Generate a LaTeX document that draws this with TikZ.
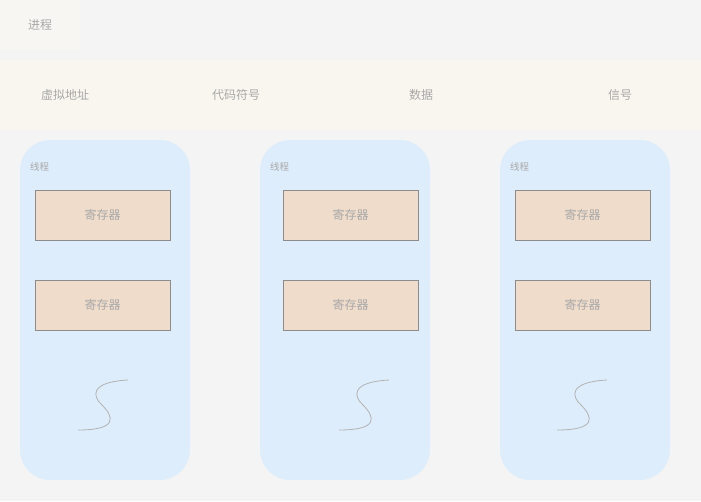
\documentclass[tikz,border=0pt]{standalone}
\usepackage{fontspec}
\newfontfamily\cjk{Noto Sans CJK SC}
\usetikzlibrary{positioning}

\definecolor{bgcol}{HTML}{F4F4F4}
\definecolor{proccol}{HTML}{F7F6F2}
\definecolor{bandcol}{HTML}{F8F6EF}
\definecolor{threadcol}{HTML}{DEEDFC}
\definecolor{regcol}{HTML}{F0DCCB}
\definecolor{txtcol}{HTML}{A8A8A8}

\begin{document}
\begin{tikzpicture}[
  x=1pt, y=-1pt,
  font=\cjk\fontsize{12}{14}\selectfont,
  every node/.style={text=txtcol, inner sep=0pt, outer sep=0pt},
  thread/.style={fill=threadcol, rounded corners=30pt, minimum width=170pt, minimum height=340pt, anchor=north west},
  register/.style={fill=regcol, draw=black!45, line width=0.7pt, minimum width=135pt, minimum height=50pt, anchor=north west},
  strand/.style={draw=black!30, line width=0.8pt}
]
% background and fixed size
\fill[bgcol] (0,0) rectangle (701,501);
\useasboundingbox (0,0) rectangle (701,501);

% process header
\node[fill=proccol, minimum width=80pt, minimum height=50pt, anchor=north west] (proc) at (0,0) {};
\node (proclabel) at (40,25) {进程};

% shared resources band
\node[fill=bandcol, minimum width=701pt, minimum height=70pt, anchor=north west] (band) at (0,60) {};
\node (vaddr) at (65,95) {虚拟地址};
\node (code) at (236,95) {代码符号};
\node (data) at (421,95) {数据};
\node (sig) at (620,95) {信号};

% threads: left edge / register left edge / strand start
\foreach \tx/\rx/\sx [count=\i] in {20/35/128, 260/283/389, 500/515/607} {
  \node[thread] (t\i) at (\tx,140) {};
  \node[anchor=west, font=\cjk\fontsize{9.5}{11}\selectfont] (tl\i) at (\tx+10,167) {线程};
  \node[register] (ra\i) at (\rx,190) {寄存器};
  \node[register] (rb\i) at (\rx,280) {寄存器};
  \draw[strand] (\sx,380) .. controls (\sx-38,382) and (\sx-36,396) .. (\sx-26,405)
    .. controls (\sx-14,417) and (\sx-10,430) .. (\sx-50,430);
}
\end{tikzpicture}
\end{document}
